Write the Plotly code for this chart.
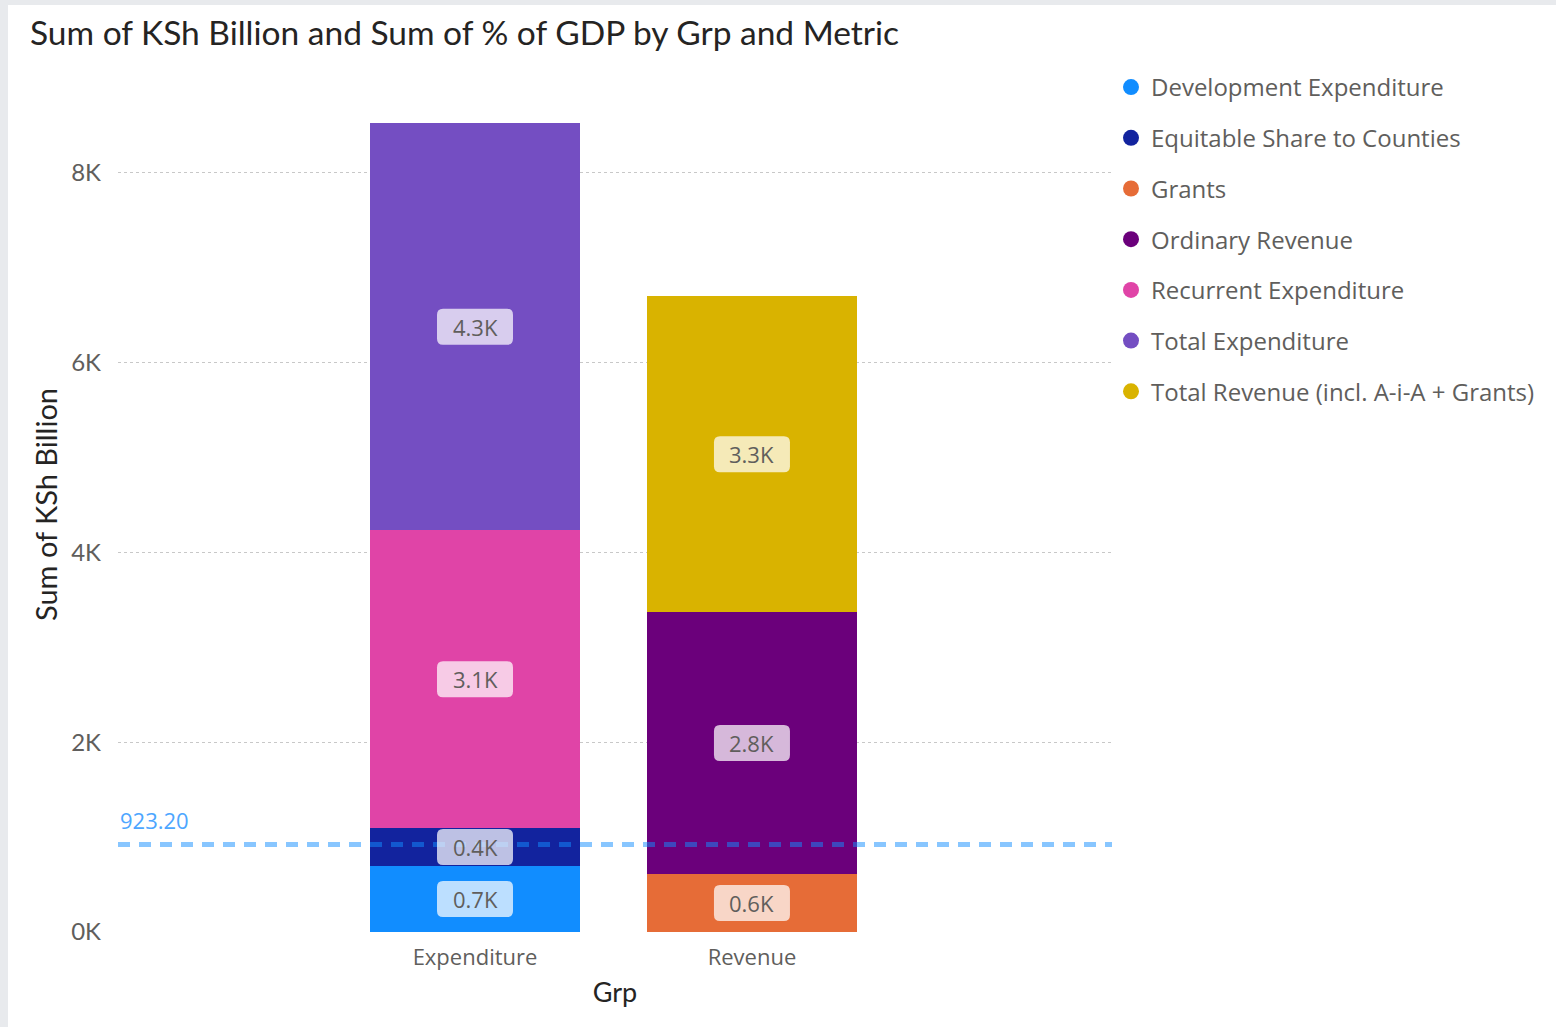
import plotly.graph_objects as go

# Categories and values (KSh Billion)
groups = ["Expenditure", "Revenue"]
metrics = [
    "Development Expenditure",
    "Equitable Share to Counties",
    "Grants",
    "Ordinary Revenue",
    "Recurrent Expenditure",
    "Total Expenditure",
    "Total Revenue (incl. A-i-A + Grants)",
]
expenditure_vals = [695, 400, None, None, 3140, 4290, None]
revenue_vals = [None, None, 611, 2760, None, None, 3330]
metric_colors = ["#118DFF", "#12239E", "#E66C37", "#6B007B", "#E044A7", "#744EC2", "#D9B300"]

average_line = 923.20
y_tickvals = [0, 2000, 4000, 6000, 8000]
y_ticktext = ["0K", "2K", "4K", "6K", "8K"]

UI_FONT = "Open Sans"
HEAD_FONT = "Lato"
TEXT_GREY = "#605E5C"
DARK = "#252423"

W, H = 1556, 1027
M_L, M_R, M_T, M_B = 118, 444, 116, 95
PLOT_W = W - M_L - M_R
PLOT_H = H - M_T - M_B

fig = go.Figure()

group_pos = list(range(len(groups)))
series = list(zip(expenditure_vals, revenue_vals))

for name, color, vals in zip(metrics, metric_colors, series):
    fig.add_trace(go.Bar(
        x=group_pos, y=list(vals), name=name, marker=dict(color=color, line=dict(width=0)),
        width=0.758, showlegend=False, legendgroup=name, hoverinfo="name+y",
    ))
    # circle marker entry for the legend
    fig.add_trace(go.Scatter(
        x=[None], y=[None], mode="markers", name=name, legendgroup=name,
        marker=dict(color=color, size=16, symbol="circle"), showlegend=True,
    ))

# data labels centred in every stacked segment
box_path = ("M -32,-18 L 32,-18 Q 38,-18 38,-12 L 38,12 Q 38,18 32,18 "
            "L -32,18 Q -38,18 -38,12 L -38,-12 Q -38,-18 -32,-18 Z")
shapes = []
annotations = []

# average reference line
shapes.append(dict(
    type="line", xref="paper", x0=0, x1=1, yref="y", y0=average_line, y1=average_line,
    line=dict(color="rgba(17,141,255,0.5)", width=5, dash="12px,9px"), layer="above",
))
annotations.append(dict(
    xref="paper", x=0.0, yref="y", y=average_line, text=f"{average_line:.2f}",
    showarrow=False, xanchor="left", yanchor="bottom", yshift=7,
    font=dict(family=UI_FONT, size=22, color="#4DA6FF"),
))

for gi in group_pos:
    base = 0
    for vals in series:
        v = vals[gi]
        if v is None:
            continue
        mid = base + v / 2
        base += v
        shapes.append(dict(
            type="path", xref="x", yref="y", xsizemode="pixel", ysizemode="pixel",
            xanchor=gi, yanchor=mid, path=box_path,
            fillcolor="rgba(255,255,255,0.72)", line=dict(width=0), layer="above",
        ))
        annotations.append(dict(
            x=gi, y=mid, xref="x", yref="y", text=f"{v / 1000:.1f}K", showarrow=False,
            font=dict(family=UI_FONT, size=22, color=TEXT_GREY),
        ))

# y axis title, placed as a rotated label
annotations.append(dict(
    xref="paper", yref="paper", x=(45 - M_L) / PLOT_W, y=(H - M_B - 505) / PLOT_H,
    text="Sum of KSh Billion", textangle=-90, showarrow=False,
    xanchor="center", yanchor="middle",
    font=dict(family=HEAD_FONT, size=29, color=DARK),
))

# white card over a light grey page
shapes.insert(0, dict(
    type="rect", xref="paper", yref="paper",
    x0=(8 - M_L) / PLOT_W, x1=1.5, y0=-0.2, y1=(H - M_B - 5) / PLOT_H,
    fillcolor="white", line=dict(width=0), layer="below",
))

fig.update_layout(
    width=W, height=H,
    margin=dict(l=M_L, r=M_R, t=M_T, b=M_B, autoexpand=False),
    paper_bgcolor="#E8EAED", plot_bgcolor="rgba(0,0,0,0)",
    barmode="stack", bargap=0,
    title=dict(
        text="Sum of KSh Billion and Sum of % of GDP by Grp and Metric",
        x=30 / W, xanchor="left", y=1 - 33 / H, yanchor="middle",
        font=dict(family=HEAD_FONT, size=33.5, color=DARK),
    ),
    font=dict(family=UI_FONT, color=TEXT_GREY),
    xaxis=dict(
        range=[-1.289, 2.30], tickvals=group_pos, ticktext=groups,
        showgrid=False, zeroline=False, showline=False, ticks="", ticklabelstandoff=10,
        tickfont=dict(family=UI_FONT, size=22, color=TEXT_GREY),
        title=dict(text="Grp", font=dict(family=HEAD_FONT, size=27, color=DARK), standoff=13),
    ),
    yaxis=dict(
        range=[0, 8600], tickvals=y_tickvals, ticktext=y_ticktext,
        showgrid=True, gridcolor="#C8C8C8", griddash="dot", gridwidth=1,
        zeroline=False, showline=False, ticks="", ticklabelstandoff=16,
        tickfont=dict(family=HEAD_FONT, size=24, color=TEXT_GREY),
    ),
    legend=dict(
        xref="container", yref="container",
        x=1111 / W, xanchor="left", y=1 - 65 / H, yanchor="top",
        font=dict(family=UI_FONT, size=24, color=TEXT_GREY),
        tracegroupgap=16.5, itemwidth=30, bgcolor="rgba(0,0,0,0)",
    ),
    shapes=shapes,
    annotations=annotations,
)

fig.write_html("out.html")
